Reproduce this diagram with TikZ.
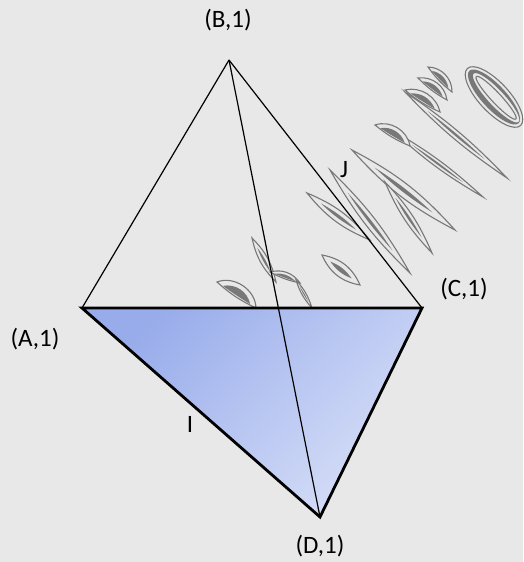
\documentclass[tikz,border=0pt]{standalone}
\usepackage{fontspec}
\setmainfont{Carlito}
\usetikzlibrary{calc}
\definecolor{bg}{RGB}{232,232,232}
\definecolor{glyphgray}{RGB}{120,120,120}
\definecolor{faceA}{RGB}{152,172,235}
\definecolor{faceD}{RGB}{214,222,247}
\tikzset{
  edge/.style={line width=1.2pt, black},
  frontedge/.style={line width=2.8pt, black, line join=miter},
  lbl/.style={font=\fontsize{25}{30}\selectfont, inner sep=0pt},
  glyph/.style={draw=glyphgray, line width=1.1pt, fill=bg},
}
% a thin lens-shaped stroke with a darker core
\newcommand\glens[4]{%
  \draw[glyph] #1 to[bend left=#3] #2 to[bend left=#3] cycle;
  \fill[glyphgray] ($#1!0.22!#2$) to[bend left=#4] ($#1!0.78!#2$) to[bend left=#4] cycle;}
% a curved crescent stroke
\newcommand\gcres[3]{%
  \draw[glyph] #1 to[bend left=#3] #2 to[bend left=8] cycle;
  \fill[glyphgray] ($#1!0.15!#2$) to[bend left=#3-10] ($#1!0.85!#2$) to[bend left=2] cycle;}
\begin{document}
\begin{tikzpicture}[x=1pt, y=-1pt]
  \fill[bg] (0,0) rectangle (523,562);
  \useasboundingbox (0,0) rectangle (523,562);

  % vertices
  \coordinate (A) at (82,308);
  \coordinate (B) at (229,60);
  \coordinate (C) at (422,308);
  \coordinate (D) at (320,517);

  % ornamental lettering behind the solid
  \begin{scope}
    \draw[glyph, rotate around={-47:(494,97)}] (494,97) ellipse (39 and 15);
    \fill[glyphgray, even odd rule, rotate around={-47:(494,97)}]
      (494,97) ellipse (36 and 12) (496,96) ellipse (33 and 8);
    \draw[glyph, rotate around={-47:(494,97)}] (496,96) ellipse (29 and 5);
    \glens{(405,92)}{(507,178)}{6}{3}
    \gcres{(405,90)}{(440,112)}{45}
    \gcres{(418,78)}{(447,100)}{45}
    \gcres{(428,67)}{(452,92)}{45}
    \glens{(392,130)}{(483,197)}{6}{3}
    \gcres{(375,125)}{(410,146)}{50}
    \glens{(352,150)}{(455,230)}{10}{5}
    \glens{(385,182)}{(432,253)}{10}{5}
    \glens{(330,170)}{(410,273)}{8}{4}
    \glens{(307,193)}{(370,240)}{14}{7}
    \glens{(322,255)}{(360,285)}{28}{16}
    \glens{(252,238)}{(276,282)}{16}{8}
    \gcres{(270,272)}{(300,283)}{35}
    \glens{(296,280)}{(312,308)}{12}{6}
    \gcres{(217,282)}{(256,308)}{55}
  \end{scope}

  % shaded front face
  \shade[top color=faceA, bottom color=faceD, shading angle=45] (A) -- (C) -- (D) -- cycle;

  % hidden-side edges
  \draw[edge] (B) -- (A);
  \draw[edge] (B) -- (C);
  \draw[edge] (B) -- (D);

  % front face outline
  \draw[frontedge] (A) -- (C) -- (D) -- cycle;

  % labels
  \node[lbl] (lB) at (228,20) {(B,1)};
  \node[lbl] (lA) at (35,339) {(A,1)};
  \node[lbl] (lC) at (464,289) {(C,1)};
  \node[lbl] (lD) at (320,546) {(D,1)};
  \node[lbl] (lI) at (190,424) {I};
  \node[lbl] (lJ) at (344,170) {J};
\end{tikzpicture}
\end{document}
